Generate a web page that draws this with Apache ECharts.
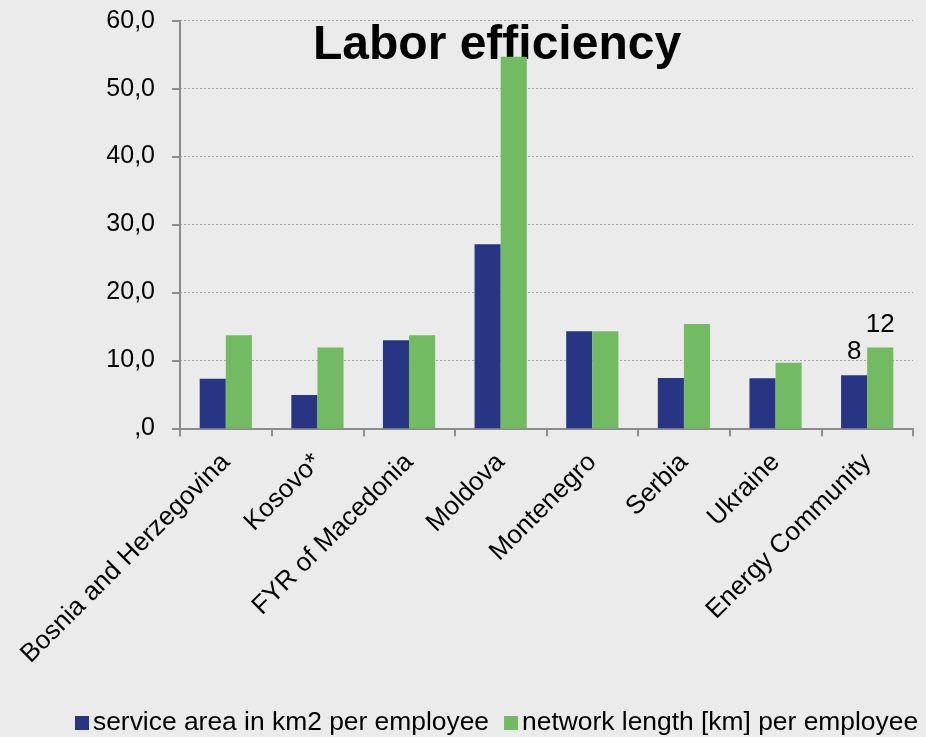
<!DOCTYPE html>
<html>
<head>
<meta charset="utf-8">
<script src="https://cdn.jsdelivr.net/npm/echarts@6/dist/echarts.min.js"></script>
<style>
  html, body { margin: 0; padding: 0; background: #ebebeb; }
  #chart { width: 926px; height: 737px; }
</style>
</head>
<body>
<div id="chart"></div>
<script>
'use strict';

var categories = ['Bosnia and Herzegovina', 'Kosovo*', 'FYR of Macedonia', 'Moldova',
  'Montenegro', 'Serbia', 'Ukraine', 'Energy Community'];
var serviceArea = [7.3, 4.9, 12.95, 27.1, 14.3, 7.4, 7.35, 7.8];
var networkLength = [13.7, 11.9, 13.7, 54.7, 14.3, 15.35, 9.65, 11.9];
var seriesNames = ['service area in km2 per employee', 'network length [km] per employee'];
var labelled = ['8', '12'];   // only the Energy Community bars carry a label

var font = 'Liberation Sans, Arial, sans-serif';

function toItems(values, text) {
  return values.map(function (v, i) {
    if (i !== values.length - 1) { return v; }
    return {
      value: v,
      label: {show: true, position: 'top', distance: 10, formatter: text,
        color: '#000', fontSize: 26, fontFamily: font}
    };
  });
}

var chart = echarts.init(document.getElementById('chart'));
chart.setOption({
  backgroundColor: '#ebebeb',
  animation: false,
  title: {
    text: 'Labor efficiency', left: 308, top: 17, z: 0,
    textStyle: {fontSize: 48, fontWeight: 'bold', color: '#000', fontFamily: font}
  },
  legend: {
    left: 75, top: 710, width: 851, padding: 0,
    itemWidth: 14, itemHeight: 14, itemGap: 15, icon: 'rect',
    textStyle: {fontSize: 26.4, color: '#000', fontFamily: font, padding: [0, 0, 0, -1]},
    data: seriesNames
  },
  grid: {left: 180, right: 13, top: 20.7, bottom: 308.7},
  xAxis: {
    type: 'category', data: categories,
    axisLine: {lineStyle: {color: '#8c8c8c', width: 2}},
    axisTick: {show: true, length: 8, lineStyle: {color: '#8c8c8c', width: 2}},
    axisLabel: {rotate: 45, margin: 30, interval: 0, color: '#000', fontSize: 26, fontFamily: font}
  },
  yAxis: {
    type: 'value', min: 0, max: 60, interval: 10,
    axisLine: {show: true, lineStyle: {color: '#8c8c8c', width: 2}},
    axisTick: {show: true, length: 8, lineStyle: {color: '#8c8c8c', width: 2}},
    axisLabel: {
      margin: 25, color: '#000', fontSize: 25, fontFamily: font,
      formatter: function (v) { return v === 0 ? ',0' : v.toFixed(1).replace('.', ','); }
    },
    splitLine: {lineStyle: {color: '#a0a0a0', type: [2, 2], width: 1}}
  },
  series: [
    {name: seriesNames[0], type: 'bar', zlevel: 1, barGap: 0, barCategoryGap: '43%',
      itemStyle: {color: '#283583'}, data: toItems(serviceArea, labelled[0])},
    {name: seriesNames[1], type: 'bar', zlevel: 1, barGap: 0, barCategoryGap: '43%',
      itemStyle: {color: '#72bb63'}, data: toItems(networkLength, labelled[1])}
  ]
});
</script>
</body>
</html>
